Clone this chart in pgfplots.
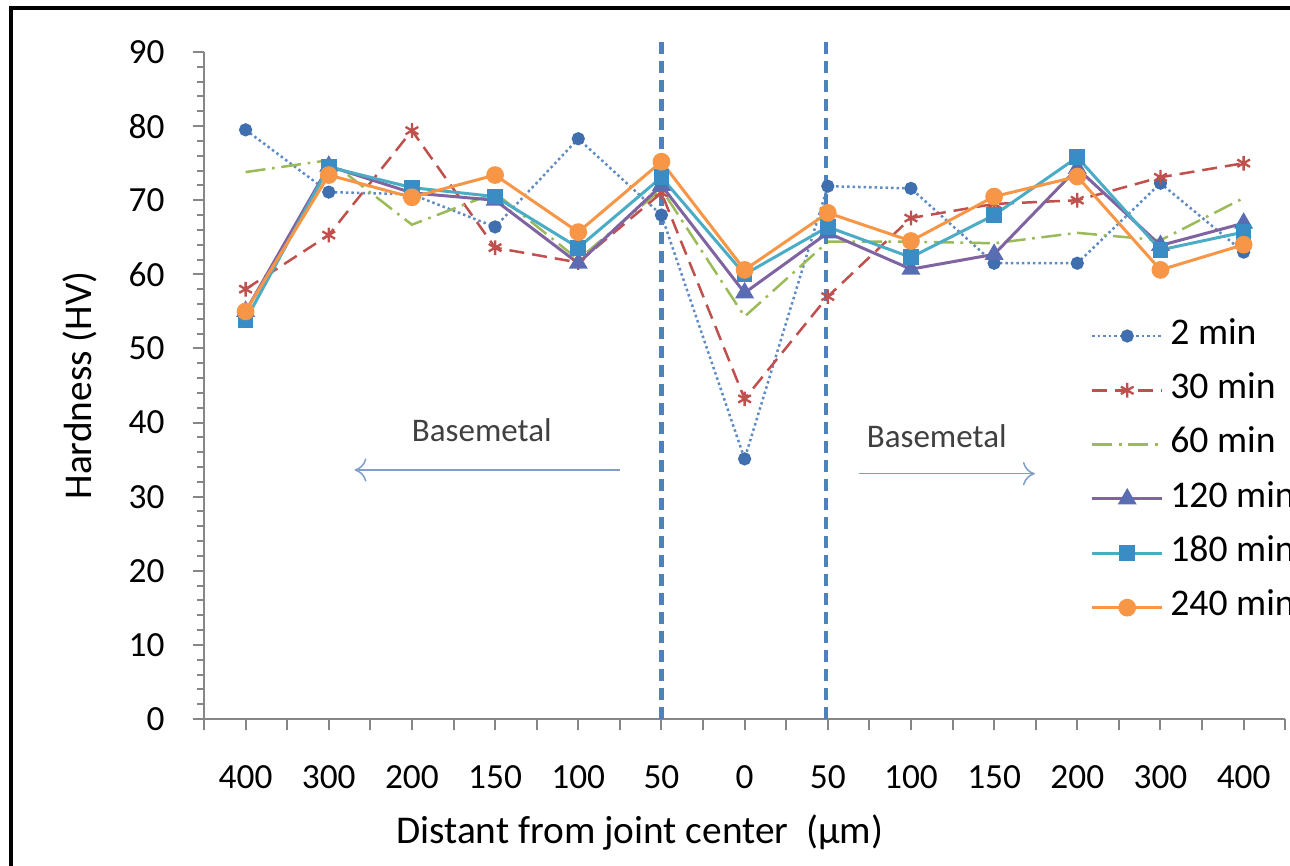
\documentclass[border=0pt]{standalone}
\usepackage{fontspec}
\setmainfont{Carlito}
\usepackage{pgfplots}
\pgfplotsset{compat=1.18}
\usetikzlibrary{arrows.meta}
\definecolor{axisgray}{HTML}{868686}
\definecolor{c2line}{HTML}{5E8BC4}
\definecolor{c2mark}{HTML}{3F6FAE}
\definecolor{c30}{HTML}{C0504D}
\definecolor{c60}{HTML}{9BBB59}
\definecolor{c120}{HTML}{8064A2}
\definecolor{c120m}{HTML}{5A6CB2}
\definecolor{c180}{HTML}{4BACC6}
\definecolor{c180m}{HTML}{3A8DC4}
\definecolor{c240}{HTML}{F79646}
\definecolor{vline}{HTML}{4F81BD}
\definecolor{arrowc}{HTML}{7F9FC8}
\definecolor{txtgray}{HTML}{404040}
\begin{document}
\begin{tikzpicture}[font=\fontsize{10}{12}\selectfont]
\useasboundingbox (0,0) rectangle (387pt,259.5pt);
\fill[white] (0,0) rectangle (387pt,259.5pt);
\draw[black, line width=1.4pt] (3.3pt,-2pt) -- (3.3pt,257.1pt) -- (390pt,257.1pt);
\begin{axis}[
  scale only axis, width=324.36pt, height=200.1pt,
  at={(61.2pt,43.8pt)}, anchor=south west,
  xmin=-0.5, xmax=12.5, ymin=0, ymax=90,
  axis x line*=bottom, axis y line*=left,
  axis line style={draw=axisgray, line width=0.6pt, -},
  tick align=outside,
  major tick length=3.3pt, minor tick length=2pt,
  tick style={draw=axisgray, line width=0.6pt},
  xtick={-0.5,0,...,12.5},
  xticklabels={{},400,{},300,{},200,{},150,{},100,{},50,{},0,{},50,{},100,{},150,{},200,{},300,{},400,{}},
  ytick={0,10,...,90},
  minor y tick num=4,
  /pgf/number format/assume math mode=true,
  yticklabel style={xshift=-5pt, font=\fontsize{10.6}{12}\selectfont},
  xticklabel style={yshift=-7pt, font=\fontsize{10.6}{12}\selectfont},
  ylabel={Hardness (HV)},
  ylabel style={at={(rel axis cs:-0.1147,0.5)}, anchor=center, rotate=0, font=\fontsize{11.8}{14}\selectfont},
  xlabel={Distant from joint center~~(µm)},
  xlabel style={at={(rel axis cs:0.403,-0.1694)}, anchor=center, font=\fontsize{11.8}{14}\selectfont},
  clip=false,
  legend cell align=left,
  legend image code/.code={\draw[mark repeat=2,mark phase=2,#1] plot coordinates {(0pt,0pt) (10.5pt,0pt) (21pt,0pt)};},
  legend style={at={(rel axis cs:0.8195,0.616)}, anchor=north west, draw=none, fill=none,
    inner sep=0pt, column sep=2pt, row sep=0pt,
    font=\fontsize{11.3}{13}\selectfont,
    nodes={inner xsep=0pt, inner ysep=3.15pt, text height=7.5pt, text depth=2.5pt}},
]
\addplot[color=c2line, line width=0.75pt, dash pattern=on 0.75pt off 0.9pt,
  mark=*, mark size=1.6pt, mark options={solid, fill=c2mark, draw=c2mark}]
  coordinates {(0,79.5) (1,71.1) (2,70.8) (3,66.4) (4,78.3) (5,68.0) (6,35.1) (7,71.9) (8,71.6) (9,61.5) (10,61.5) (11,72.3) (12,63.0)};
\addlegendentry{2 min}
\addplot[color=c30, line width=0.75pt, dash pattern=on 4.5pt off 2.4pt,
  mark=asterisk, mark size=2.2pt, mark options={solid, line width=0.7pt}]
  coordinates {(0,58.0) (1,65.3) (2,79.4) (3,63.6) (4,61.6) (5,71.0) (6,43.2) (7,57.0) (8,67.6) (9,69.5) (10,70.0) (11,73.1) (12,75.0)};
\addlegendentry{30 min}
\addplot[color=c60, line width=0.75pt, dash pattern=on 6pt off 2pt on 0.8pt off 2pt, no markers]
  coordinates {(0,73.8) (1,75.4) (2,66.7) (3,71.0) (4,62.0) (5,71.5) (6,54.3) (7,64.4) (8,64.4) (9,64.2) (10,65.6) (11,64.6) (12,70.3)};
\addlegendentry{60 min}
\addplot[color=c120, line width=0.9pt, mark=triangle*, mark size=2.4pt,
  mark options={solid, fill=c120m, draw=c120m}]
  coordinates {(0,55.0) (1,74.6) (2,71.0) (3,70.0) (4,61.5) (5,72.0) (6,57.5) (7,65.6) (8,60.7) (9,62.7) (10,74.3) (11,63.9) (12,66.9)};
\addlegendentry{120 min}
\addplot[color=c180, line width=0.9pt, mark=square*, mark size=1.9pt,
  mark options={solid, fill=c180m, draw=c180m}]
  coordinates {(0,53.8) (1,74.5) (2,71.7) (3,70.5) (4,63.6) (5,73.1) (6,60.0) (7,66.4) (8,62.3) (9,68.0) (10,75.8) (11,63.3) (12,65.7)};
\addlegendentry{180 min}
\addplot[color=c240, line width=0.9pt, mark=*, mark size=2.2pt,
  mark options={solid, fill=c240, draw=c240}]
  coordinates {(0,55.0) (1,73.4) (2,70.4) (3,73.4) (4,65.7) (5,75.2) (6,60.6) (7,68.3) (8,64.5) (9,70.5) (10,73.2) (11,60.6) (12,64.0)};
\addlegendentry{240 min}
\draw[vline, line width=1.3pt, dash pattern=on 3.6pt off 2.1pt] (axis cs:5,0) -- (axis cs:5,92);
\draw[vline, line width=1.3pt, dash pattern=on 3.6pt off 2.1pt] (axis cs:6.98,0) -- (axis cs:6.98,92);
\draw[arrowc, line width=0.45pt, -{To[length=3.6pt,width=7pt]}] (axis cs:4.50,33.6) -- (axis cs:1.31,33.6);
\draw[arrowc, line width=0.45pt, -{To[length=3.6pt,width=7pt]}] (axis cs:7.38,33.1) -- (axis cs:9.49,33.1);
\node[txtgray, font=\fontsize{9.9}{11}\selectfont] at (axis cs:2.84,39.0) {Basemetal};
\node[txtgray, font=\fontsize{9.9}{11}\selectfont] at (axis cs:8.31,38.1) {Basemetal};
\end{axis}
\end{tikzpicture}
\end{document}
